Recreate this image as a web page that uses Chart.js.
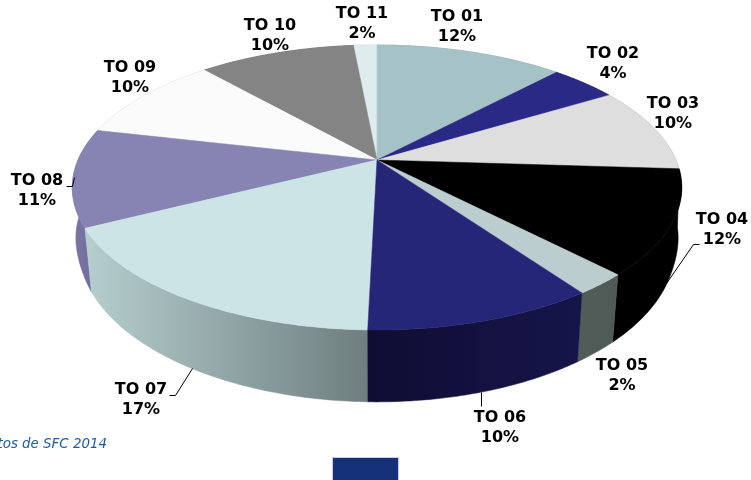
<!DOCTYPE html>
<html><head><meta charset="utf-8">
<script src="https://cdn.jsdelivr.net/npm/chart.js@4/dist/chart.umd.min.js"></script>
<style>html,body{margin:0;padding:0;background:#fff;overflow:hidden}canvas{display:block}</style>
</head><body><canvas id="c" width="751" height="480"></canvas>
<script>
const categories = ["TO 01","TO 02","TO 03","TO 04","TO 05","TO 06","TO 07","TO 08","TO 09","TO 10","TO 11"];
const shares = [12.0,4.3,9.7,11.8,2.4,10.2,17.1,11.1,9.9,10.0,1.5];
const topColors = ["#a5c3c7","#2b2986","#dedede","#000000","#bccdd0","#262679","#cce4e6","#8784b3","#fbfbfb","#848484","#dfecee"];
const wallLight = ["#7f9699","#1f1e60","#a8a8a8","#000000","#525c59","#0e0d33","#b6cecf","#7a76a6","#c0c0c0","#606060","#aab8ba"];
const wallDark  = ["#7f9699","#1f1e60","#a8a8a8","#000000","#4f5955","#16154a","#6e7e7f","#6f6a9a","#c0c0c0","#606060","#aab8ba"];
const labelCentres = [[457,17],[613,54],[673,104],[722,220],[622,366],[500,418],[141,390],[37,181],[130,68],[270,26],[362,14]];
const leaders = [[[699,244],[693,244],[666,283]],[[481,392],[481,406]],[[169,395],[175,395],[192,368]],[[66,186],[72,186],[74,177]]];
const sourceNote = "tos de SFC 2014";

const view = {cx:377, cy:160, persp:0.193, ry:137.2, rx:299, depth:58, foot:0.978};
function project(theta, low){
  const u = Math.sin(theta), v = -Math.cos(theta), w = 1 - view.persp*v;
  let x = view.rx*u/w, y = view.ry*v/w;
  if(low){
    const s = Math.min(1, Math.max(0, (v+0.1)/0.5)), t = s*s*(3-2*s);
    x *= 1 - (1-view.foot)*t;
    y += view.depth/w;
  }
  return [view.cx+x, view.cy+y];
}
function rim(a0,a1,low){
  const n = Math.max(2, Math.ceil(Math.abs(a1-a0)/0.012)), pts=[];
  for(let i=0;i<=n;i++) pts.push(project(a0+(a1-a0)*i/n, low));
  return pts;
}
function trace(ctx,pts){ ctx.beginPath(); pts.forEach((p,i)=> i?ctx.lineTo(p[0],p[1]):ctx.moveTo(p[0],p[1])); ctx.closePath(); }

const perspectivePie = {
  id:'perspectivePie',
  beforeDatasetDraw(chart,args){
    const ctx = chart.ctx, arcs = chart.getDatasetMeta(0).data;
    const slices = arcs.map((el,i)=>({i, a0:el.startAngle+Math.PI/2, a1:el.endAngle+Math.PI/2}));
    const order = slices.slice().sort((s,t)=>(-Math.cos((s.a0+s.a1)/2))-(-Math.cos((t.a0+t.a1)/2)));
    ctx.save();
    order.forEach(s=>{
      const up = rim(s.a0,s.a1,false), lo = rim(s.a0,s.a1,true).reverse();
      const all = up.concat(lo), xs = all.map(p=>p[0]);
      const g = ctx.createLinearGradient(Math.min(...xs),0,Math.max(...xs),0);
      g.addColorStop(0,wallLight[s.i]); g.addColorStop(1,wallDark[s.i]);
      trace(ctx,all); ctx.fillStyle=g; ctx.fill(); ctx.strokeStyle=g; ctx.lineWidth=.5; ctx.stroke();
    });
    order.forEach(s=>{
      const pts = [[view.cx,view.cy]].concat(rim(s.a0,s.a1,false));
      trace(ctx,pts); ctx.fillStyle=topColors[s.i]; ctx.fill();
      ctx.strokeStyle=topColors[s.i]; ctx.lineWidth=.5; ctx.stroke();
    });
    ctx.restore();
    return false;
  },
  afterDraw(chart){
    const ctx = chart.ctx;
    ctx.save();
    ctx.strokeStyle='#000'; ctx.lineWidth=1;
    leaders.forEach(l=>{ ctx.beginPath(); l.forEach((p,i)=> i?ctx.lineTo(p[0]+.5,p[1]+.5):ctx.moveTo(p[0]+.5,p[1]+.5)); ctx.stroke(); });
    ctx.fillStyle='#000'; ctx.font='bold 16px "DejaVu Sans"'; ctx.textAlign='center'; ctx.textBaseline='middle';
    categories.forEach((c,i)=>{
      const [x,y]=labelCentres[i];
      ctx.fillText(c,x,y);
      ctx.fillText(Math.round(shares[i])+'%',x,y+20);
    });
    ctx.fillStyle='#1f5a9c'; ctx.font='italic 13.4px "DejaVu Sans"'; ctx.textAlign='right';
    ctx.fillText(sourceNote,107,445);
    ctx.fillStyle='#c9cfdb'; ctx.fillRect(332,457,67,23);
    ctx.fillStyle='#14317a'; ctx.fillRect(333,458,65,22);
    ctx.restore();
  }
};

new Chart(document.getElementById('c'),{
  type:'pie',
  data:{labels:categories,datasets:[{data:shares,backgroundColor:topColors,borderWidth:0}]},
  options:{responsive:false,animation:false,
    plugins:{legend:{display:false},tooltip:{enabled:false}}},
  plugins:[perspectivePie]
});
</script></body></html>
